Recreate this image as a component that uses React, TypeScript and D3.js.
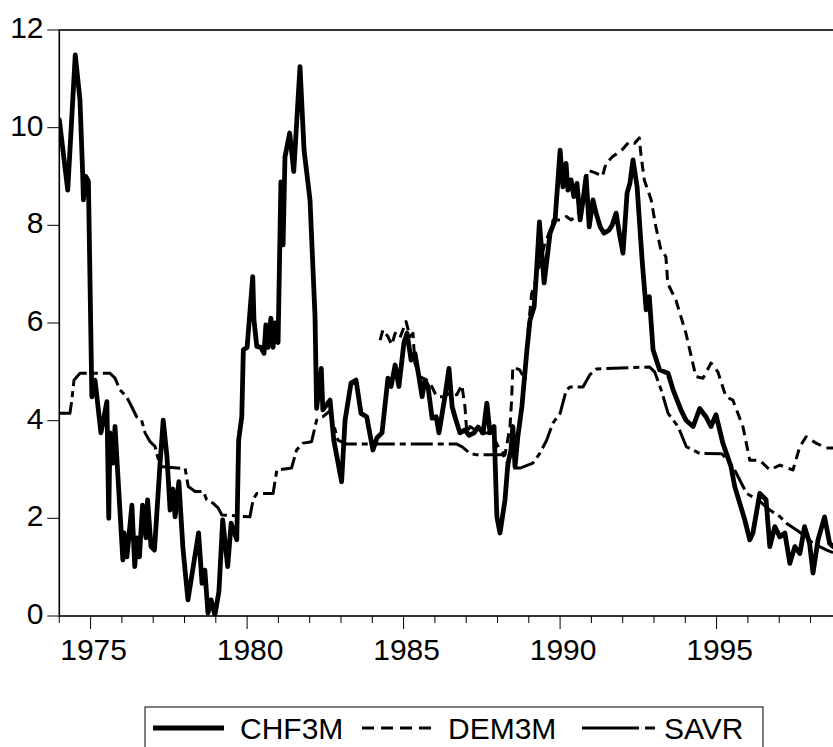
import * as d3 from "d3";

// decimal year, percent
const chf3m: [number, number][] = [
  [1974.0, 10.16], [1974.27, 8.72], [1974.51, 11.49], [1974.66, 10.57], [1974.75, 9.0], [1974.77, 8.52],
  [1974.85, 9.0], [1974.93, 8.9], [1975.04, 4.49], [1975.14, 4.83], [1975.2, 4.5], [1975.33, 3.75],
  [1975.52, 4.39], [1975.58, 2.0], [1975.62, 3.75], [1975.72, 3.13], [1975.78, 3.88], [1976.03, 1.15],
  [1976.07, 1.7], [1976.16, 1.21], [1976.32, 2.27], [1976.41, 1.01], [1976.48, 1.6], [1976.56, 1.21],
  [1976.66, 2.27], [1976.77, 1.6], [1976.82, 2.38], [1976.93, 1.42], [1977.04, 1.35], [1977.22, 3.13],
  [1977.32, 4.01], [1977.44, 3.26], [1977.54, 2.17], [1977.63, 2.6], [1977.7, 2.03], [1977.82, 2.75],
  [1977.95, 1.39], [1978.11, 0.33], [1978.45, 1.7], [1978.56, 0.67], [1978.65, 0.94], [1978.75, 0.06],
  [1978.85, 0.33], [1978.97, 0.02], [1979.1, 0.5], [1979.22, 1.97], [1979.38, 1.01], [1979.49, 1.9],
  [1979.67, 1.56], [1979.73, 3.6], [1979.83, 4.08], [1979.88, 5.45], [1980.0, 5.5], [1980.18, 6.95],
  [1980.22, 6.06], [1980.31, 5.52], [1980.44, 5.5], [1980.54, 5.38], [1980.6, 5.96], [1980.67, 5.5],
  [1980.76, 6.1], [1980.83, 5.5], [1980.89, 6.0], [1980.99, 5.6], [1981.08, 8.89], [1981.15, 7.6],
  [1981.21, 9.4], [1981.36, 9.89], [1981.49, 9.1], [1981.69, 11.25], [1981.82, 9.54], [1982.01, 8.52],
  [1982.17, 6.13], [1982.22, 4.25], [1982.37, 5.07], [1982.42, 4.22], [1982.65, 4.42], [1982.71, 4.0],
  [1982.77, 3.6], [1983.02, 2.75], [1983.13, 4.01], [1983.32, 4.77], [1983.48, 4.83], [1983.64, 4.15],
  [1983.82, 4.08], [1984.02, 3.4], [1984.15, 3.65], [1984.31, 3.75], [1984.5, 4.87], [1984.6, 4.7],
  [1984.73, 5.14], [1984.85, 4.7], [1985.01, 5.59], [1985.11, 5.79], [1985.24, 5.24], [1985.36, 5.38],
  [1985.49, 4.9], [1985.59, 4.49], [1985.68, 4.83], [1985.78, 4.7], [1985.91, 4.05], [1986.04, 4.08],
  [1986.13, 3.75], [1986.32, 4.49], [1986.45, 5.07], [1986.55, 4.29], [1986.64, 4.08], [1986.8, 3.75],
  [1986.96, 3.81], [1987.09, 3.7], [1987.25, 3.75], [1987.38, 3.87], [1987.54, 3.75], [1987.66, 4.36],
  [1987.76, 3.75], [1987.89, 3.88], [1987.98, 2.03], [1988.08, 1.7], [1988.24, 2.38], [1988.33, 3.1],
  [1988.43, 3.4], [1988.49, 3.88], [1988.56, 3.06], [1988.65, 3.67], [1988.78, 4.29], [1988.94, 5.45],
  [1989.04, 6.06], [1989.17, 6.33], [1989.23, 6.88], [1989.34, 8.07], [1989.49, 6.82], [1989.68, 7.84],
  [1989.84, 8.11], [1990.0, 9.54], [1990.09, 8.79], [1990.19, 9.27], [1990.25, 8.72], [1990.35, 8.93],
  [1990.44, 8.59], [1990.54, 8.86], [1990.64, 8.11], [1990.73, 8.5], [1990.83, 9.0], [1990.93, 7.97],
  [1991.05, 8.52], [1991.15, 8.25], [1991.28, 7.97], [1991.4, 7.84], [1991.56, 7.9], [1991.66, 8.0],
  [1991.79, 8.25], [1991.91, 7.77], [1992.01, 7.43], [1992.14, 8.66], [1992.23, 8.86], [1992.33, 9.34],
  [1992.46, 8.79], [1992.62, 7.29], [1992.75, 6.27], [1992.85, 6.54], [1992.97, 5.45], [1993.18, 5.04],
  [1993.45, 4.97], [1993.61, 4.63], [1993.86, 4.22], [1994.02, 4.01], [1994.25, 3.88], [1994.46, 4.25],
  [1994.66, 4.08], [1994.82, 3.88], [1994.98, 4.12], [1995.2, 3.54], [1995.46, 3.06], [1995.58, 2.65],
  [1995.9, 1.97], [1996.06, 1.56], [1996.16, 1.7], [1996.38, 2.51], [1996.58, 2.38], [1996.7, 1.42],
  [1996.86, 1.83], [1997.02, 1.62], [1997.18, 1.7], [1997.34, 1.08], [1997.5, 1.42], [1997.66, 1.28],
  [1997.81, 1.83], [1997.97, 1.49], [1998.08, 0.88], [1998.24, 1.56], [1998.45, 2.03], [1998.61, 1.49],
  [1998.72, 1.42],
];

const dem3m: [number, number][] = [
  [1984.25, 5.65], [1984.34, 5.86], [1984.5, 5.72], [1984.62, 5.55], [1984.73, 5.79], [1984.88, 5.69],
  [1985.08, 6.03], [1985.2, 5.72], [1985.3, 5.79], [1985.36, 5.18], [1985.52, 4.9], [1985.74, 4.83],
  [1985.9, 4.7], [1986.06, 4.49], [1986.26, 4.49], [1986.48, 4.56], [1986.7, 4.53], [1986.86, 4.73],
  [1986.96, 4.29], [1987.02, 3.75], [1987.12, 3.88], [1987.44, 3.75], [1987.7, 3.75], [1987.86, 3.67],
  [1988.08, 3.4], [1988.24, 3.3], [1988.4, 3.88], [1988.45, 4.42], [1988.49, 5.1], [1988.71, 5.04],
  [1988.88, 4.83], [1988.97, 5.79], [1989.09, 6.6], [1989.23, 6.9], [1989.35, 7.2], [1989.5, 7.6],
  [1989.68, 7.9], [1989.78, 8.11], [1990.0, 8.11], [1990.2, 8.18], [1990.36, 8.11], [1990.5, 8.2],
  [1990.68, 8.31], [1990.88, 9.13], [1991.15, 9.07], [1991.35, 9.0], [1991.47, 9.27], [1991.68, 9.41],
  [1991.97, 9.54], [1992.21, 9.71], [1992.38, 9.68], [1992.53, 9.79], [1992.59, 9.41], [1992.69, 8.93],
  [1992.91, 8.52], [1993.06, 7.97], [1993.22, 7.5], [1993.38, 7.36], [1993.44, 6.81], [1993.7, 6.47],
  [1994.02, 5.79], [1994.34, 4.9], [1994.57, 4.87], [1994.82, 5.18], [1995.04, 5.0], [1995.3, 4.49],
  [1995.52, 4.42], [1995.84, 3.88], [1996.06, 3.19], [1996.38, 3.19], [1996.7, 2.99], [1997.02, 3.09],
  [1997.44, 2.99], [1997.66, 3.47], [1997.86, 3.67], [1998.18, 3.54], [1998.5, 3.44], [1998.72, 3.44],
];

const savr: [number, number][] = [
  [1974.0, 4.15], [1974.34, 4.15], [1974.4, 4.42], [1974.47, 4.83], [1974.66, 4.97], [1975.62, 4.97],
  [1975.78, 4.87], [1975.94, 4.63], [1976.15, 4.49], [1976.31, 4.29], [1976.47, 4.08], [1976.63, 4.01],
  [1976.74, 3.75], [1976.9, 3.57], [1977.06, 3.47], [1977.22, 3.06], [1978.02, 3.02], [1978.12, 2.65],
  [1978.34, 2.55], [1978.6, 2.55], [1978.71, 2.38], [1978.91, 2.31], [1979.08, 2.21], [1979.19, 2.07],
  [1980.09, 2.03], [1980.19, 2.38], [1980.31, 2.51], [1980.83, 2.51], [1980.95, 2.99], [1981.42, 3.03],
  [1981.58, 3.4], [1981.79, 3.54], [1982.06, 3.57], [1982.22, 4.01], [1982.42, 4.08], [1982.65, 4.2],
  [1982.9, 3.6], [1983.18, 3.52], [1986.7, 3.52], [1986.86, 3.47], [1987.12, 3.33], [1987.34, 3.3],
  [1988.18, 3.3], [1988.4, 3.03], [1988.72, 3.03], [1989.13, 3.13], [1989.35, 3.33], [1989.57, 3.6],
  [1989.77, 3.95], [1990.0, 4.15], [1990.2, 4.63], [1990.32, 4.69], [1990.73, 4.69], [1990.95, 4.94],
  [1991.16, 5.06], [1992.86, 5.1], [1993.02, 5.0], [1993.23, 4.63], [1993.45, 4.15], [1993.77, 3.88],
  [1994.03, 3.47], [1994.46, 3.33], [1995.17, 3.32], [1995.52, 3.06], [1995.96, 2.51], [1996.38, 2.35],
  [1996.7, 2.17], [1997.03, 2.03], [1997.23, 1.9], [1997.65, 1.72], [1998.08, 1.49], [1998.29, 1.42],
  [1998.52, 1.35], [1998.72, 1.3],
];

const yTicks = [0, 2, 4, 6, 8, 10, 12];
const yearTicks = d3.range(1974, 1999);
const yearLabels = [1975, 1980, 1985, 1990, 1995];
const seriesNames = ["CHF3M", "DEM3M", "SAVR"];

const W = 833;
const H = 747;
const FONT = "'Liberation Sans', Arial, sans-serif";

const styles = [
  { width: 4.8, dash: undefined as string | undefined },
  { width: 3, dash: "10 6" },
  { width: 3, dash: "22 5 6 5" },
];

export default function App() {
  const x = d3.scaleLinear().domain([1974, 1999]).range([59.3, 841.8]);
  const y = d3.scaleLinear().domain([0, 12]).range([616, 30]);
  const line = d3
    .line<[number, number]>()
    .x((d) => x(d[0]))
    .y((d) => y(d[1]));

  const series = [chf3m, dem3m, savr];

  const lgTop = 707;
  const lgLeft = 145;
  const lgRight = 763;
  const lgY = 728;
  const items = [
    { x1: 153, x2: 224, tx: 240, dash: undefined },
    { x1: 362, x2: 433, tx: 448, dash: "12 7" },
    { x1: 582, x2: 655, tx: 664, dash: "57 6 10 100" },
  ];

  return (
    <>
      <style>{`body{margin:0}`}</style>
      <svg width={W} height={H} style={{ display: "block", background: "#fff" }} fontFamily={FONT}>
        <defs>
          <clipPath id="plot">
            <rect x={x(1974)} y={y(12)} width={x(1999) - x(1974)} height={y(0) - y(12)} />
          </clipPath>
        </defs>

        {/* series */}
        <g clipPath="url(#plot)" fill="none" stroke="#000" strokeLinejoin="round">
          {series.map((s, i) => (
            <path
              key={i}
              d={line(s) ?? ""}
              strokeWidth={styles[i].width}
              strokeDasharray={styles[i].dash}
              strokeLinecap={i === 0 ? "round" : "butt"}
            />
          ))}
        </g>

        {/* frame */}
        <rect
          x={x(1974)}
          y={y(12)}
          width={x(1999) - x(1974)}
          height={y(0) - y(12)}
          fill="none"
          stroke="#000"
          strokeWidth={1.6}
        />

        {/* y axis */}
        {yTicks.map((t) => (
          <g key={t}>
            <line x1={x(1974) - 12} x2={x(1974)} y1={y(t)} y2={y(t)} stroke="#000" strokeWidth={1} />
            <text x={43.5} y={y(t) + 8} textAnchor="end" fontSize={30}>
              {t}
            </text>
          </g>
        ))}

        {/* x axis */}
        {yearTicks.map((yr) => (
          <line
            key={yr}
            x1={x(yr)}
            x2={x(yr)}
            y1={y(0)}
            y2={y(0) + (yearLabels.includes(yr) ? 13 : 7)}
            stroke="#000"
            strokeWidth={1}
          />
        ))}
        {yearLabels.map((yr) => (
          <text key={yr} x={x(yr) + 3} y={660} textAnchor="middle" fontSize={30}>
            {yr}
          </text>
        ))}

        {/* legend */}
        <rect x={lgLeft} y={lgTop} width={lgRight - lgLeft} height={80} fill="#fff" stroke="#000" strokeWidth={1} />
        {items.map((it, i) => (
          <g key={i}>
            <line
              x1={it.x1}
              x2={it.x2}
              y1={lgY}
              y2={lgY}
              stroke="#000"
              strokeWidth={styles[i].width}
              strokeDasharray={it.dash}
            />
            <text x={it.tx} y={lgY + 10.5} fontSize={30}>
              {seriesNames[i]}
            </text>
          </g>
        ))}
      </svg>
    </>
  );
}
